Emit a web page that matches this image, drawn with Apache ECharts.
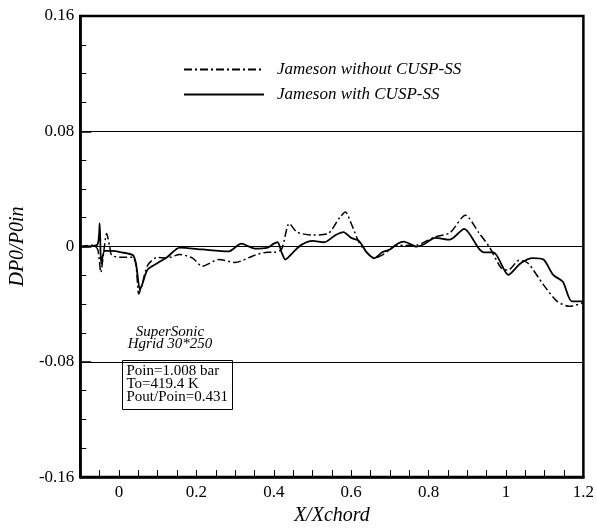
<!DOCTYPE html>
<html>
<head>
<meta charset="utf-8">
<script src="https://cdn.jsdelivr.net/npm/echarts@6/dist/echarts.min.js"></script>
<style>
  html, body { margin: 0; padding: 0; background: #fff; }
  #chart { width: 597px; height: 531px; }
</style>
</head>
<body>
<div id="chart"></div>
<script>
// Jameson without CUSP-SS (dash-dot)
const withoutX = [-0.1, -0.07, -0.055, -0.047, -0.04, -0.032, -0.024, -0.019, 0.006, 0.036, 0.044, 0.051, 0.059, 0.074, 0.099, 0.124, 0.157, 0.19, 0.215, 0.258, 0.30, 0.351, 0.384,
  0.40, 0.42, 0.44, 0.46, 0.50, 0.54, 0.57, 0.585, 0.60, 0.62, 0.64, 0.66, 0.68, 0.70, 0.72,
  0.736, 0.769, 0.817, 0.855, 0.895, 0.93, 0.958, 0.988, 1.006, 1.034, 1.057, 1.097, 1.132, 1.164, 1.2];
const withoutY = [0, 0.001, -0.002, -0.018, -0.005, 0.009, 0, -0.006, -0.0075, -0.0075, -0.013, -0.033, -0.027, -0.013, -0.0075, -0.008, -0.0055, -0.008, -0.0136, -0.009, -0.011, -0.006, -0.004,
  -0.004, -0.002, 0.016, 0.01, 0.008, 0.009, 0.02, 0.024, 0.016, 0.003, -0.004, -0.008, -0.006, -0.002, 0.001,
  0.0007, 0.001, 0.0068, 0.0095, 0.0218, 0.0095, -0.0007, -0.015, -0.0163, -0.0095, -0.0116, -0.0266, -0.038, -0.0415, -0.039];

// Jameson with CUSP-SS (solid)
const withX = [-0.1, -0.057, -0.05, -0.046, -0.037, -0.019, 0.006, 0.036, 0.044, 0.054, 0.059, 0.074, 0.099, 0.124, 0.157, 0.215, 0.283, 0.316, 0.351, 0.384,
  0.40, 0.41, 0.42, 0.43, 0.45, 0.47, 0.50, 0.53, 0.56, 0.58, 0.60, 0.62, 0.64, 0.66, 0.68, 0.70, 0.72,
  0.736, 0.769, 0.787, 0.817, 0.855, 0.892, 0.93, 0.943, 0.968, 1.006, 1.038, 1.069, 1.097, 1.122, 1.147, 1.17, 1.2];
const withY = [0, 0.001, 0.016, -0.012, -0.003, -0.003, -0.004, -0.006, -0.012, -0.03, -0.027, -0.016, -0.0116, -0.0075, -0.0007, -0.002, -0.0034, 0.002, -0.0014, -0.0007,
  0.002, 0.003, -0.004, -0.009, -0.004, 0.001, 0.004, 0.003, 0.008, 0.01, 0.006, 0.004, -0.004, -0.008, -0.004, -0.002, 0.002,
  0.0034, 0, 0.0014, 0.006, 0.0048, 0.0123, -0.0014, -0.004, -0.004, -0.0197, -0.0116, -0.008, -0.009, -0.0197, -0.0245, -0.038, -0.038];

const seriesNames = ['Jameson without CUSP-SS', 'Jameson with CUSP-SS'];
const yTicks = [-0.16, -0.08, 0, 0.08, 0.16];
const xTicks = [0, 0.2, 0.4, 0.6, 0.8, 1, 1.2];

const serif = 'Liberation Serif';
const pair = (xs, ys) => xs.map((x, i) => [x, ys[i]]);

let myChart = echarts.init(document.getElementById('chart'));
let option = {
  animation: false,
  backgroundColor: '#fff',
  textStyle: { fontFamily: serif, color: '#000' },
  grid: {
    left: 68,
    right: 13,
    top: 16,
    bottom: 45,
    show: true,
    borderColor: '#000',
    borderWidth: 2.5
  },
  legend: {
    orient: 'vertical',
    left: 183,
    top: 61,
    padding: 0,
    itemWidth: 80,
    itemHeight: 14,
    itemGap: 8,
    itemStyle: { opacity: 0 },
    textStyle: {
      fontFamily: serif,
      fontStyle: 'italic',
      fontSize: 17,
      color: '#000',
      padding: [0, 0, 0, 8]
    },
    data: seriesNames
  },
  xAxis: {
    type: 'value',
    min: -0.1,
    max: 1.2,
    interval: 0.05,
    name: 'X/Xchord',
    nameLocation: 'middle',
    nameGap: 24,
    nameTextStyle: { fontFamily: serif, fontStyle: 'italic', fontSize: 20, color: '#000' },
    axisLine: { onZero: false, lineStyle: { color: '#000', width: 2.5 } },
    axisTick: { inside: true, length: 7, lineStyle: { color: '#000', width: 1 } },
    axisLabel: {
      fontFamily: serif,
      fontSize: 17,
      color: '#000',
      margin: 7,
      formatter: function(v) {
        let r = Math.round(v * 100) / 100;
        return xTicks.indexOf(r) >= 0 ? String(r) : '';
      }
    },
    splitLine: { show: false }
  },
  yAxis: {
    type: 'value',
    min: yTicks[0],
    max: yTicks[yTicks.length - 1],
    interval: 0.08,
    name: 'DP0/P0in',
    nameLocation: 'middle',
    nameGap: 38,
    nameTextStyle: { fontFamily: serif, fontStyle: 'italic', fontSize: 20, color: '#000' },
    axisLine: { onZero: false, lineStyle: { color: '#000', width: 2.5 } },
    axisTick: { inside: true, length: 11, lineStyle: { color: '#000', width: 1.5 } },
    minorTick: { show: true, splitNumber: 4, length: 6, lineStyle: { color: '#000', width: 1 } },
    axisLabel: { fontFamily: serif, fontSize: 17, color: '#000', margin: 6 },
    splitLine: { show: true, lineStyle: { color: '#000', width: 1 } }
  },
  graphic: [
    {
      type: 'text',
      x: 170,
      y: 326,
      style: {
        text: 'SuperSonic\nHgrid 30*250',
        font: 'italic 15px "Liberation Serif"',
        fill: '#000',
        align: 'center',
        lineHeight: 12
      }
    },
    {
      type: 'group',
      left: 122,
      top: 360,
      children: [
        {
          type: 'rect',
          shape: { x: 0, y: 0, width: 110, height: 49 },
          style: { fill: '#fff', stroke: '#000', lineWidth: 1 }
        },
        {
          type: 'text',
          x: 4,
          y: 4,
          style: {
            text: 'Poin=1.008 bar\nTo=419.4 K\nPout/Poin=0.431',
            font: '15px "Liberation Serif"',
            fill: '#000',
            lineHeight: 13
          }
        }
      ]
    }
  ],
  series: [
    {
      name: seriesNames[0],
      type: 'line',
      data: pair(withoutX, withoutY),
      symbol: 'none',
      showSymbol: false,
      smooth: 0.25,
      lineStyle: { color: '#000', width: 1.5, type: [8, 3, 2, 3] },
      itemStyle: { color: '#000' }
    },
    {
      name: seriesNames[1],
      type: 'line',
      data: pair(withX, withY),
      symbol: 'none',
      showSymbol: false,
      smooth: 0.25,
      lineStyle: { color: '#000', width: 1.8 },
      itemStyle: { color: '#000' }
    }
  ]
};
myChart.setOption(option);
</script>
</body>
</html>
